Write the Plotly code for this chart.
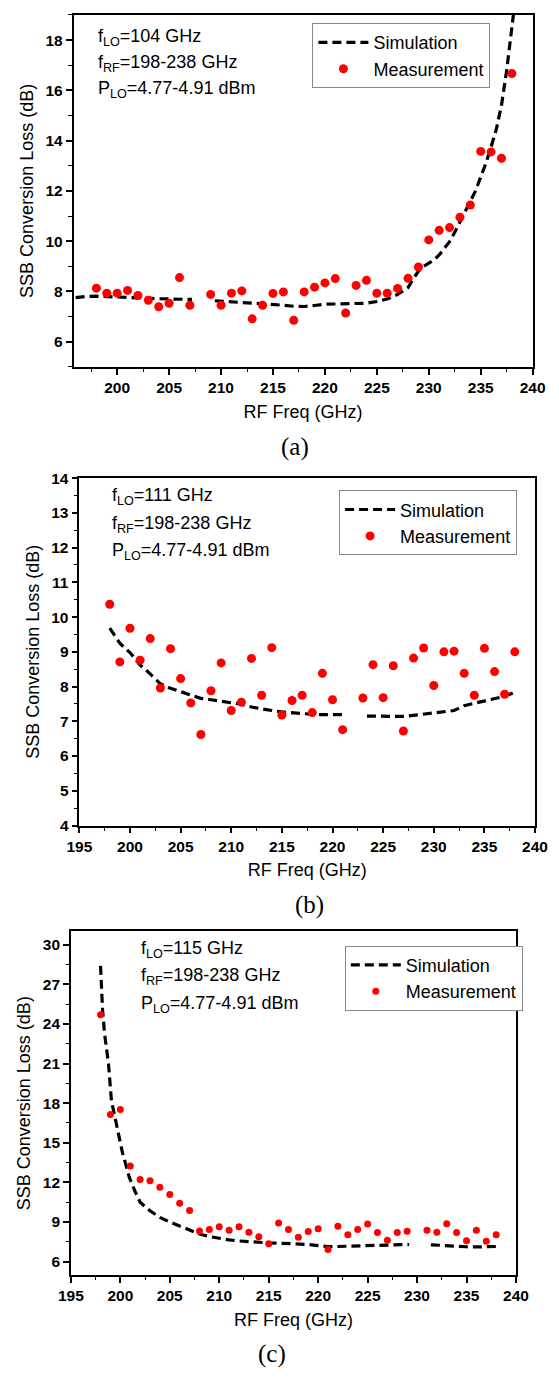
import plotly.graph_objects as go

# ---------------- data ----------------
# Panel (a): fLO = 104 GHz
a_meas_x = [198, 199, 200, 201, 202, 203, 204, 205, 206, 207,
            209, 210, 211, 212, 213, 214, 215, 216, 217, 218,
            219, 220, 221, 222, 223, 224, 225, 226, 227, 228,
            229, 230, 231, 232, 233, 234, 235, 236, 237, 238]
a_meas_y = [8.13, 7.93, 7.93, 8.04, 7.84, 7.65, 7.39, 7.53, 8.55, 7.45,
            7.88, 7.45, 7.93, 8.02, 6.91, 7.45, 7.92, 7.98, 6.85, 7.98,
            8.17, 8.34, 8.51, 7.14, 8.24, 8.44, 7.93, 7.93, 8.12, 8.52,
            8.97, 10.05, 10.43, 10.54, 10.95, 11.44, 13.57, 13.55, 13.30, 16.67]
a_sim_x = [196, 197, 198, 199, 200, 201, 202, 203, 204, 205, 206, 207.2, None,
           209.4, 210, 211, 212, 213, 214, 215, 216, 217, 218, 219, 220, 221, 222,
           223, 224, 225, 226, 227, 227.5, 228, 228.5, 229, 229.5, 230, 230.5, 231,
           231.5, 232, 232.5, 233, 233.5, 234, 234.5, 235, 235.5, 236, 236.5, 237,
           237.5, 238, 238.2]
a_sim_y = [7.75, 7.80, 7.81, 7.80, 7.79, 7.77, 7.75, 7.73, 7.71, 7.70, 7.69, 7.68, None,
           7.63, 7.61, 7.58, 7.55, 7.53, 7.51, 7.49, 7.45, 7.41, 7.40, 7.44, 7.49, 7.50, 7.50,
           7.50, 7.53, 7.60, 7.70, 7.88, 8.00, 8.15, 8.50, 8.80, 9.00, 9.12, 9.25, 9.45,
           9.70, 9.98, 10.35, 10.75, 11.15, 11.55, 12.00, 12.55, 13.10, 13.75, 14.45, 15.40,
           16.80, 18.50, 19.20]

# Panel (b): fLO = 111 GHz
b_meas_x = [198, 199, 200, 201, 202, 203, 204, 205, 206, 207, 208, 209,
            210, 211, 212, 213, 214, 215, 216, 217, 218, 219, 220, 221,
            223, 224, 225, 226, 227, 228, 229, 230, 231, 232, 233, 234,
            235, 236, 237, 238]
b_meas_y = [10.37, 8.71, 9.68, 8.76, 9.38, 7.96, 9.09, 8.23, 7.53, 6.62, 7.88, 8.68,
            7.31, 7.55, 8.81, 7.75, 9.12, 7.18, 7.60, 7.75, 7.25, 8.38, 7.62, 6.76,
            7.67, 8.63, 7.68, 8.60, 6.72, 8.82, 9.11, 8.03, 9.00, 9.02, 8.38, 7.75,
            9.10, 8.43, 7.78, 9.00]
b_sim_x = [198, 198.5, 199, 199.5, 200, 200.5, 201, 201.5, 202, 203, 204, 205, 206,
           207, 208, 209, 210, 211, 212, 213, 214, 215, 216, 217, 218, 219, 220, 221.2,
           None, 223.4, 224, 225, 226, 227, 228, 229, 230, 231, 232, 233, 234, 235,
           236, 237, 238]
b_sim_y = [9.68, 9.45, 9.25, 9.10, 8.98, 8.80, 8.62, 8.50, 8.35, 8.08, 7.95, 7.85, 7.74,
           7.66, 7.62, 7.58, 7.55, 7.49, 7.41, 7.35, 7.31, 7.27, 7.24, 7.22, 7.20, 7.19, 7.19, 7.19,
           None, 7.15, 7.15, 7.14, 7.13, 7.14, 7.17, 7.20, 7.24, 7.27, 7.31, 7.45, 7.52, 7.58,
           7.65, 7.72, 7.84]

# Panel (c): fLO = 115 GHz
c_meas_x = [198, 199, 200, 201, 202, 203, 204, 205, 206, 207, 208, 209, 210, 211,
            212, 213, 214, 215, 216, 217, 218, 219, 220, 221, 222, 223, 224, 225,
            226, 227, 228, 229, 231, 232, 233, 234, 235, 236, 237, 238]
c_meas_y = [24.70, 17.15, 17.53, 13.25, 12.23, 12.13, 11.63, 11.08, 10.43, 9.88, 8.33, 8.43,
            8.65, 8.38, 8.65, 8.23, 7.88, 7.35, 8.93, 8.43, 7.85, 8.28, 8.50, 6.93, 8.68,
            8.03, 8.43, 8.85, 8.20, 7.63, 8.20, 8.30, 8.38, 8.23, 8.88, 8.20, 7.58, 8.38,
            7.55, 8.03]
c_sim_x = [198, 198.2, 198.4, 198.6, 198.8, 199.1, 199.5, 199.8, 200.2, 200.5, 200.9,
           201.5, 202, 203, 204, 205, 206, 207, 208, 209, 210, 211, 212, 213, 214, 215,
           216, 217, 218, 219, 220, 221, 222, 223, 224, 225, 226, 227, 228, 229.2, None,
           231.4, 232, 233, 234, 235, 236, 237, 238]
c_sim_y = [28.40, 25.10, 23.30, 22.10, 21.00, 18.20, 16.80, 15.60, 14.30, 13.50, 12.40,
           11.30, 10.50, 9.85, 9.35, 9.00, 8.70, 8.45, 8.10, 7.90, 7.75, 7.65, 7.57, 7.50, 7.45,
           7.42, 7.40, 7.38, 7.35, 7.30, 7.22, 7.15, 7.15, 7.17, 7.18, 7.20, 7.22, 7.25, 7.28,
           7.30, None, 7.28, 7.25, 7.20, 7.15, 7.13, 7.12, 7.13, 7.15]

lo_labels = ["104", "111", "115"]
rf_label = "198-238"
plo_label = "4.77-4.91"
captions = ["(a)", "(b)", "(c)"]
x_title = "RF Freq (GHz)"
y_title = "SSB Conversion Loss (dB)"

# ---------------- layout geometry (pixels) ----------------
W, H = 559, 1378
panels = [
    dict(sx=a_sim_x, sy=a_sim_y, mx=a_meas_x, my=a_meas_y,
         px=(63.5, 545.0), py=(6.0, 362.3), xr=[195.8, 240], yr=[5, 19],
         xt=dict(tick0=200, dtick=5), yt=dict(tick0=6, dtick=2), ym=1, msize=9,
         ann_x=86.7, ann_y=[29, 55.5, 82], leg=(314, 14.3), cap=(296, 443)),
    dict(sx=b_sim_x, sy=b_sim_y, mx=b_meas_x, my=b_meas_y,
         px=(69.6, 547.5), py=(475.0, 826.7), xr=[195, 240], yr=[4, 14],
         xt=dict(tick0=195, dtick=5), yt=dict(tick0=4, dtick=1), ym=0.5, msize=9,
         ann_x=101.7, ann_y=[493.5, 521.5, 549.5], leg=(342, 487.3), cap=(311, 907)),
    dict(sx=c_sim_x, sy=c_sim_y, mx=c_meas_x, my=c_meas_y,
         px=(60.7, 527.5), py=(934.0, 1281.7), xr=[195, 240], yr=[5, 31],
         xt=dict(tick0=195, dtick=5), yt=dict(tick0=6, dtick=3), ym=1.5, msize=7,
         ann_x=132, ann_y=[952.5, 980, 1007.5], leg=(348, 948.3), cap=(272, 1362)),
]

FONT = "Arial, Liberation Sans, sans-serif"
fig = go.Figure()
annotations = []
layout = dict(
    width=W, height=H, margin=dict(l=0, r=0, t=0, b=0),
    paper_bgcolor="white", plot_bgcolor="white",
    font=dict(family=FONT, color="black"),
)

tick_font = dict(family=FONT, size=15.5, color="black", weight="bold")
txt_font = dict(family=FONT, size=18, color="black")

for i, p in enumerate(panels):
    n = "" if i == 0 else str(i + 1)
    xa, ya = "x" + n, "y" + n
    legname = "legend" + n
    fig.add_trace(go.Scatter(
        x=p["sx"], y=p["sy"], mode="lines", name="Simulation",
        line=dict(color="black", width=3.2, dash="9px,5px"),
        xaxis=xa, yaxis=ya, legend=legname, connectgaps=False, cliponaxis=True))
    fig.add_trace(go.Scatter(
        x=p["mx"], y=p["my"], mode="markers", name="Measurement",
        marker=dict(color="#ff0000", size=p["msize"], line=dict(width=0)),
        xaxis=xa, yaxis=ya, legend=legname))

    xd = [p["px"][0] / W, p["px"][1] / W]
    yd = [1 - p["py"][1] / H, 1 - p["py"][0] / H]
    common = dict(showline=True, linecolor="black", linewidth=1.5, mirror=True,
                  ticks="outside", ticklen=6, tickwidth=1.5, tickcolor="black",
                  showgrid=False, zeroline=False, tickfont=tick_font)
    layout["xaxis" + n] = dict(
        domain=xd, range=p["xr"], anchor=ya, tickmode="linear", **p["xt"],
        minor=dict(ticks="outside", ticklen=3.5, tickwidth=1.2, tickcolor="black", dtick=2.5,
                   showgrid=False),
        title=dict(text=x_title, font=dict(size=18, family=FONT), standoff=10),
        **common)
    layout["yaxis" + n] = dict(
        domain=yd, range=p["yr"], anchor=xa, tickmode="linear", **p["yt"],
        minor=dict(ticks="outside", ticklen=3.5, tickwidth=1.2, tickcolor="black", dtick=p["ym"],
                   showgrid=False),
        title=dict(text=y_title, font=dict(size=18, family=FONT), standoff=7),
        **common)
    layout[legname] = dict(
        x=p["leg"][0] / W, y=1 - p["leg"][1] / H, xanchor="left", yanchor="top",
        bordercolor="#888888", borderwidth=1, bgcolor="white",
        font=txt_font, tracegroupgap=0, itemwidth=50)

    texts = [f"f<sub>LO</sub>={lo_labels[i]} GHz",
             f"f<sub>RF</sub>={rf_label} GHz",
             f"P<sub>LO</sub>={plo_label} dBm"]
    for t, yy in zip(texts, p["ann_y"]):
        annotations.append(dict(text=t, x=p["ann_x"] / W, y=1 - yy / H, xref="paper", yref="paper",
                                xanchor="left", yanchor="middle", showarrow=False, font=txt_font))
    annotations.append(dict(text=captions[i], x=p["cap"][0] / W, y=1 - p["cap"][1] / H,
                            xref="paper", yref="paper", xanchor="center", yanchor="middle",
                            showarrow=False,
                            font=dict(family="Liberation Serif, Times New Roman, serif", size=25,
                                      color="black")))

layout["annotations"] = annotations
layout["showlegend"] = True
fig.update_layout(**layout)
fig.write_html("out.html")
